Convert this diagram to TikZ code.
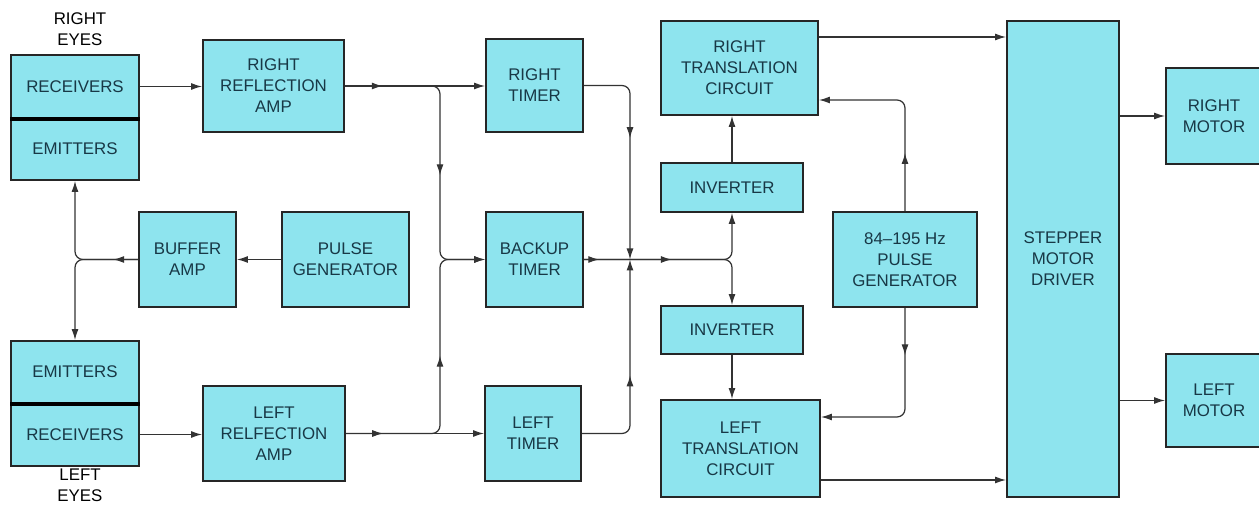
\documentclass[tikz,border=0pt]{standalone}
\usepackage{fontspec}
\setmainfont{Liberation Sans}
\usepackage{tikz}
\usetikzlibrary{arrows.meta,positioning,calc,decorations.markings}
\definecolor{blockcyan}{RGB}{142,228,238}
\definecolor{blocktext}{RGB}{24,56,70}

\tikzset{
  blk/.style={draw=black!85, line width=1.1pt, fill=blockcyan, text=blocktext, align=center,
    font=\fontsize{9.6}{12}\selectfont, inner sep=0pt},
  eyelabel/.style={align=center, font=\fontsize{9.6}{12}\selectfont},
  flow/.style={line width=0.7pt, draw=black!80, -{Latex[length=2.2mm,width=1.4mm]}},
  midtip/.style={postaction={decorate, decoration={markings,
    mark=at position #1 with {\arrow{Latex[length=2.2mm,width=1.4mm]}}}}},
}

\begin{document}
\begin{tikzpicture}[x=0.02cm, y=-0.02cm]
\useasboundingbox (0,0) rectangle (1259,506);

\node[blk, minimum width=2.56cm, minimum height=1.26cm] (rrecv) at (75,86.5) {RECEIVERS};
\node[blk, minimum width=2.56cm, minimum height=1.24cm] (remit) at (75,149) {EMITTERS};
\node[blk, minimum width=2.56cm, minimum height=1.24cm] (lemit) at (75,372) {EMITTERS};
\node[blk, minimum width=2.56cm, minimum height=1.26cm] (lrecv) at (75,434.5) {RECEIVERS};
\draw[line width=2.6pt] (rrecv.south west) -- (rrecv.south east);
\draw[line width=2.6pt] (lemit.south west) -- (lemit.south east);
\node[eyelabel] (reyes) at (80,29) {RIGHT\\EYES};
\node[eyelabel] (leyes) at (80,485) {LEFT\\EYES};

\node[blk, minimum width=2.82cm, minimum height=1.84cm] (ramp) at (273.5,86) {RIGHT\\REFLECTION\\AMP};
\node[blk, minimum width=2.84cm, minimum height=1.90cm] (lamp) at (274,433.5) {LEFT\\RELFECTION\\AMP};
\node[blk, minimum width=1.94cm, minimum height=1.90cm] (buf) at (187.5,259.5) {BUFFER\\AMP};
\node[blk, minimum width=2.54cm, minimum height=1.90cm] (pgen) at (345.5,259.5) {PULSE\\GENERATOR};

\node[blk, minimum width=1.94cm, minimum height=1.86cm] (rtim) at (534.5,85.5) {RIGHT\\TIMER};
\node[blk, minimum width=1.94cm, minimum height=1.90cm] (btim) at (534.5,259.5) {BACKUP\\TIMER};
\node[blk, minimum width=1.92cm, minimum height=1.90cm] (ltim) at (533,433.5) {LEFT\\TIMER};

\node[blk, minimum width=3.14cm, minimum height=1.88cm] (rtc) at (739.5,68) {RIGHT\\TRANSLATION\\CIRCUIT};
\node[blk, minimum width=2.84cm, minimum height=0.98cm] (rinv) at (732,187.5) {INVERTER};
\node[blk, minimum width=2.84cm, minimum height=0.96cm] (linv) at (732,330) {INVERTER};
\node[blk, minimum width=3.18cm, minimum height=1.94cm] (ltc) at (740.5,448.5) {LEFT\\TRANSLATION\\CIRCUIT};
\node[blk, minimum width=2.88cm, minimum height=1.90cm] (hzgen) at (905,259.5) {84--195 Hz\\PULSE\\GENERATOR};

\node[blk, minimum width=2.24cm, minimum height=9.52cm] (drv) at (1063,259) {STEPPER\\MOTOR\\DRIVER};
\node[blk, minimum width=1.92cm, minimum height=1.92cm] (rmot) at (1214,116) {RIGHT\\MOTOR};
\node[blk, minimum width=1.92cm, minimum height=1.86cm] (lmot) at (1214,400.5) {LEFT\\MOTOR};

\coordinate (bsplit) at (440,259.5);
\coordinate (tjoin) at (630,259.5);
\coordinate (rtcin) at ([yshift=-0.64cm]rtc.east);
\coordinate (ltcin) at ([yshift=0.63cm]ltc.east);
\coordinate (rtcout) at ([yshift=0.62cm]rtc.east);
\coordinate (ltcout) at ([yshift=-0.63cm]ltc.east);

\draw[flow] (rrecv.east) -- (rrecv.east -| ramp.west);
\draw[flow] (lrecv.east) -- (lrecv.east -| lamp.west);
\draw[flow, rounded corners=1.6mm, midtip=0.18] (buf.west) -- (remit.south |- buf.west) -- (remit.south);
\draw[flow, rounded corners=1.6mm] (buf.west) -- (lemit.north |- buf.west) -- (lemit.north);
\draw[flow] (pgen.west) -- (buf.east);

\draw[flow, midtip=0.27] (ramp.east) -- (ramp.east -| rtim.west);
\draw[flow, midtip=0.27] (lamp.east) -- (lamp.east -| ltim.west);
\draw[flow, rounded corners=1.6mm, midtip=0.59] (ramp.east) -- (bsplit |- ramp.east) -- (bsplit) -- (btim.west);
\draw[flow, rounded corners=1.6mm, midtip=0.55] (lamp.east) -- (bsplit |- lamp.east) -- (bsplit) -- (btim.west);

\draw[flow, rounded corners=1.6mm, midtip=0.44] (rtim.east) -- (tjoin |- rtim.east) -- (tjoin);
\draw[flow, rounded corners=1.6mm, midtip=0.47] (ltim.east) -- (tjoin |- ltim.east) -- (tjoin);
\draw[flow, rounded corners=1.6mm, midtip=0.08, midtip=0.46] (btim.east) -- (rinv.south |- btim.east) -- (rinv.south);
\draw[flow, rounded corners=1.6mm] (btim.east) -- (linv.north |- btim.east) -- (linv.north);

\draw[flow] (rinv.north) -- (rinv.north |- rtc.south);
\draw[flow] (linv.south) -- (linv.south |- ltc.north);
\draw[flow, rounded corners=1.6mm, midtip=0.3] (hzgen.north) -- (hzgen.north |- rtcin) -- (rtcin);
\draw[flow, rounded corners=1.6mm, midtip=0.25] (hzgen.south) -- (hzgen.south |- ltcin) -- (ltcin);

\draw[flow] (rtcout) -- (rtcout -| drv.west);
\draw[flow] (ltcout) -- (ltcout -| drv.west);
\draw[flow] (rmot.west -| drv.east) -- (rmot.west);
\draw[flow] (lmot.west -| drv.east) -- (lmot.west);
\end{tikzpicture}
\end{document}
